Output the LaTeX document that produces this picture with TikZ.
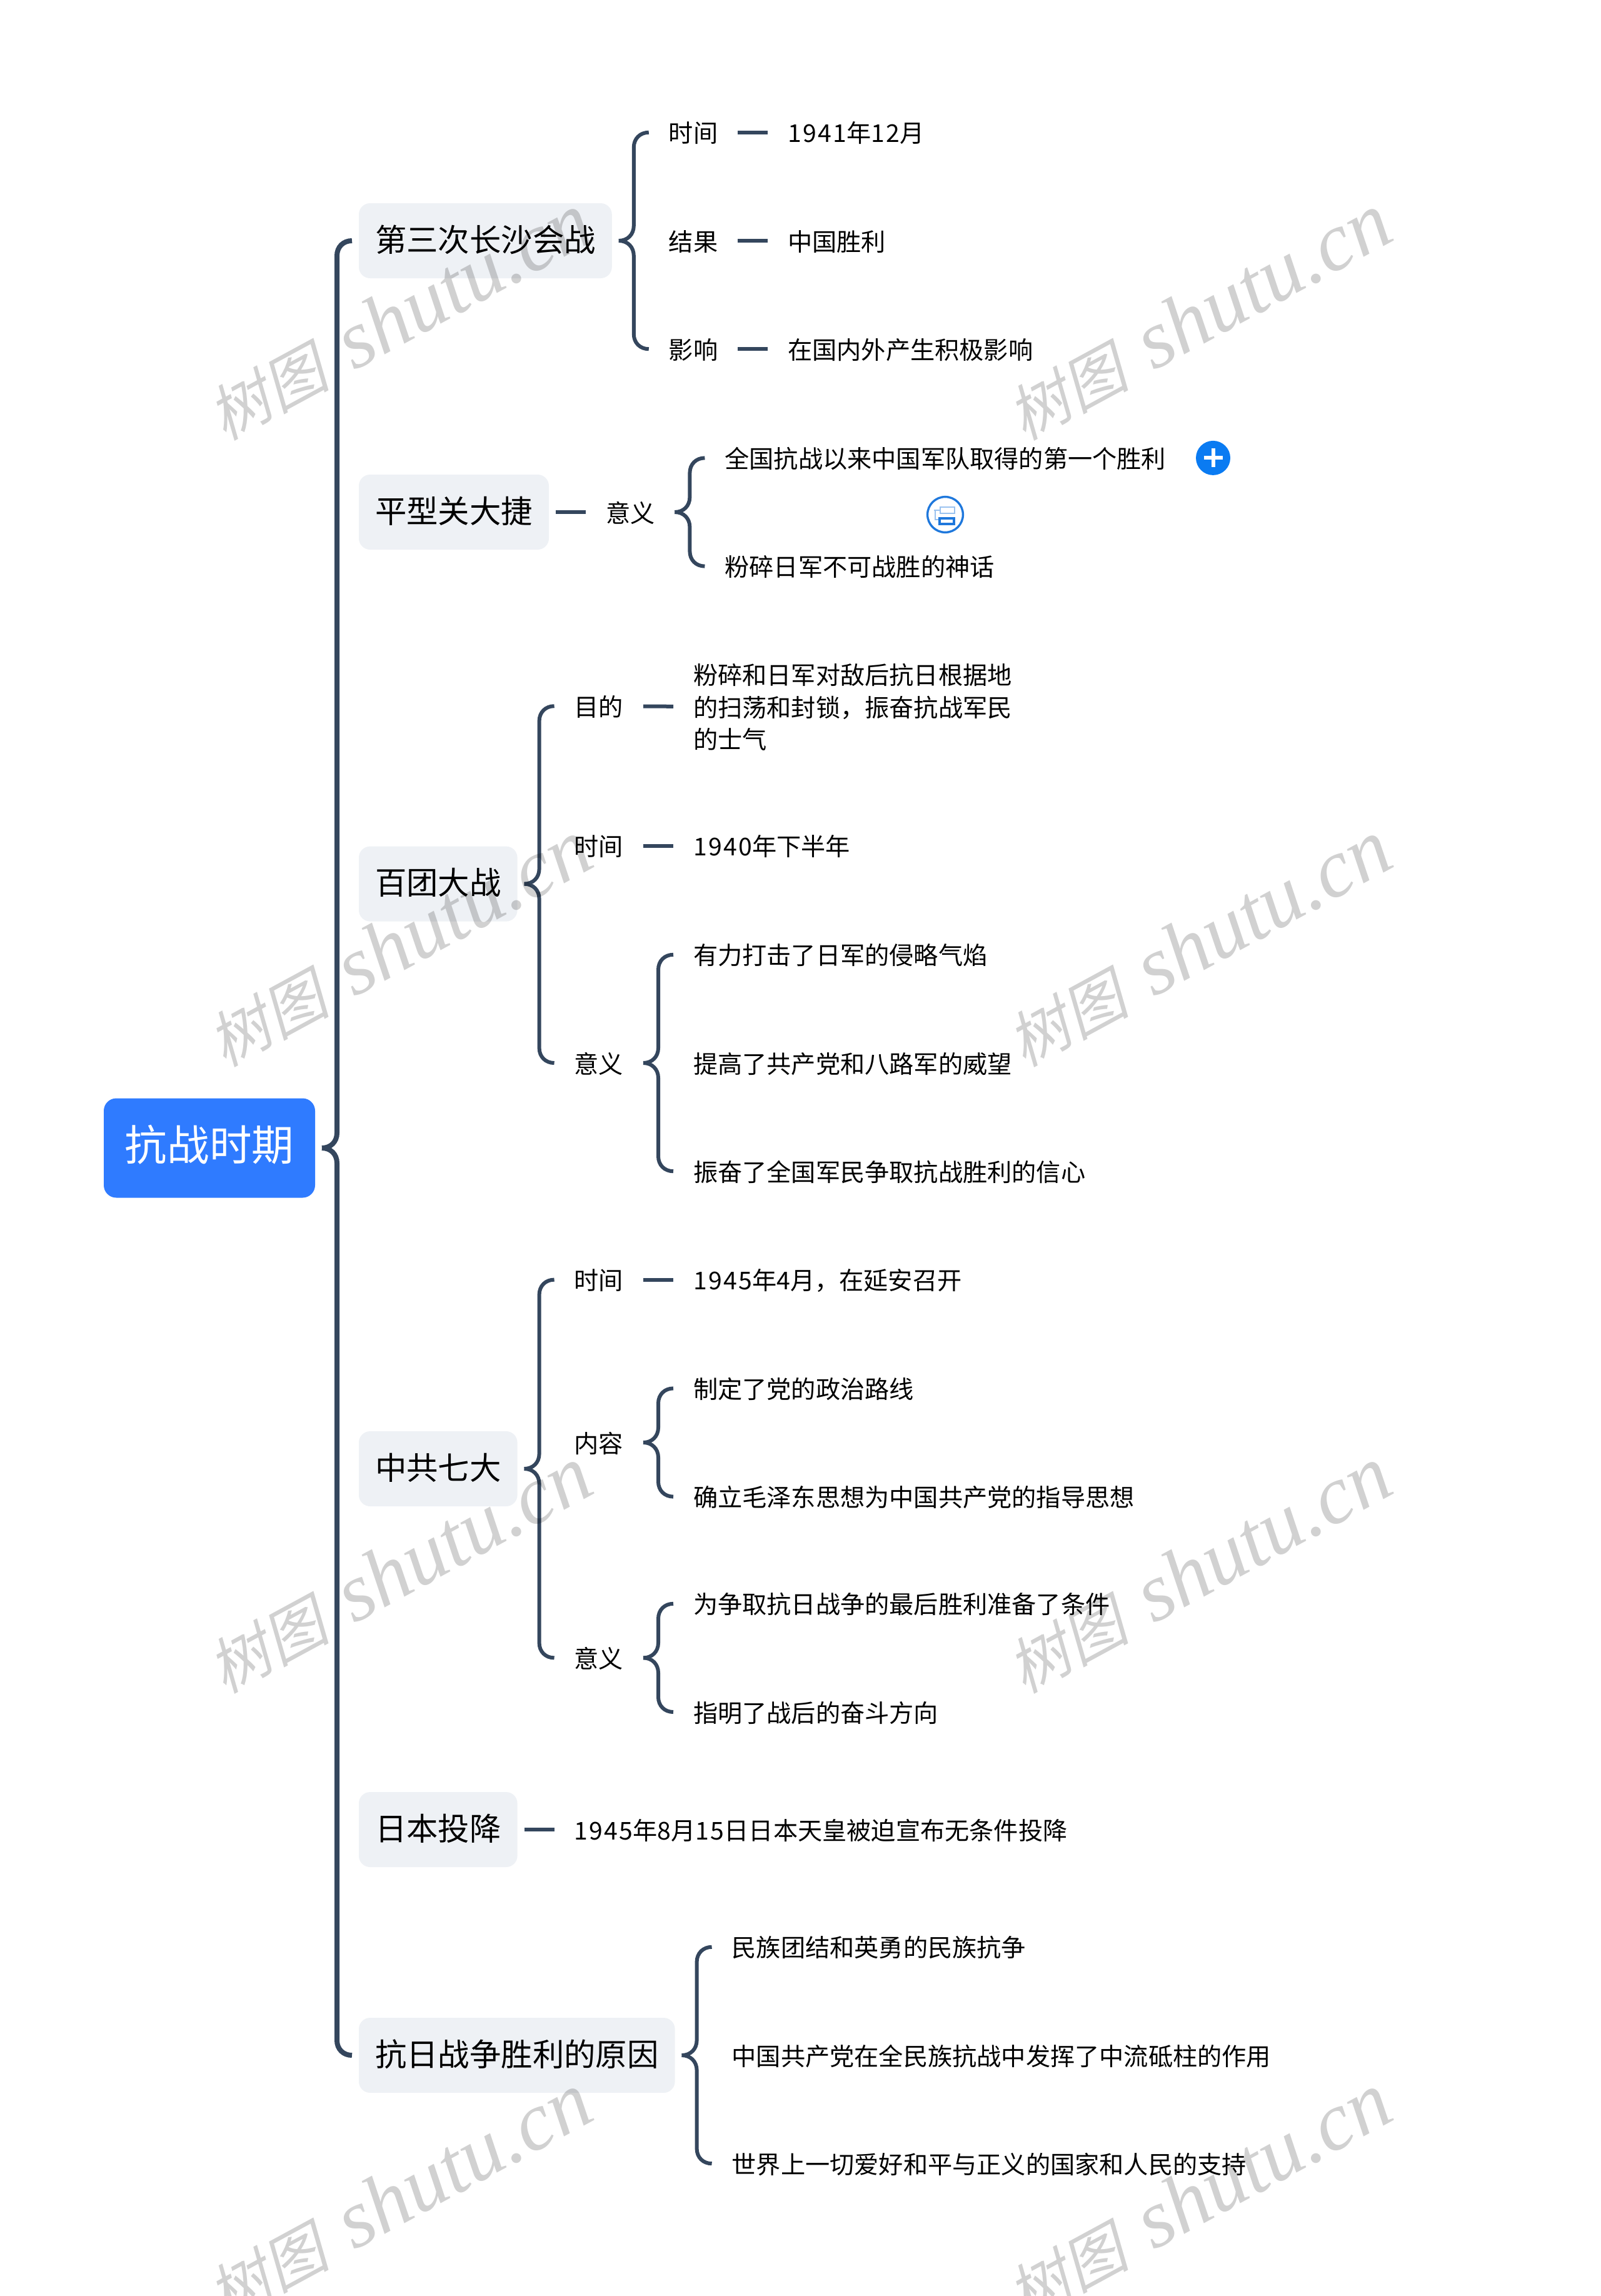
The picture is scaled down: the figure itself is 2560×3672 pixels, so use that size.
\documentclass[tikz,border=0pt]{standalone}
\usepackage{fontspec}
\setmainfont{Noto Sans CJK SC}
\newfontfamily\wmcjk[FakeSlant=0.22]{Noto Sans CJK SC}
\newfontfamily\wmlatin{Liberation Serif}
\usetikzlibrary{positioning,calc}

\definecolor{linecol}{HTML}{34465D}
\definecolor{rootcol}{HTML}{2F7BFF}
\definecolor{boxcol}{HTML}{EEF1F5}
\definecolor{pluscol}{HTML}{0A7BF2}
\definecolor{iconcol}{HTML}{1F78DC}
\newcommand{\dg}[1]{{\addfontfeature{LetterSpace=6}#1}}

\tikzset{
    rootnode/.style={fill=rootcol, text=white, rounded corners=5pt, inner xsep=8.45pt, inner ysep=0pt,
        outer xsep=2.75pt, outer ysep=0pt, minimum height=39.75pt,
        font=\fontsize{16.9}{20}\selectfont, text height=1.04em, text depth=0pt},
    branch/.style={fill=boxcol, rounded corners=4.5pt, inner xsep=6.5pt, inner ysep=0pt,
        outer xsep=2.75pt, outer ysep=0pt, minimum height=30pt,
        font=\fontsize{12.6}{15}\selectfont, text height=.93em, text depth=.07em},
    leaf/.style={inner xsep=5.25pt, inner ysep=0pt, outer xsep=2.75pt, outer ysep=0pt,
        font=\fontsize{9.8}{12.9}\selectfont, text height=.9em, text depth=.1em},
    dash line/.style={line width=1.5pt, draw=linecol},
    bracket/.style={line width=1.5pt, draw=linecol, to path={
        let \p1=(\tikztostart), \p2=(\tikztotarget), \n1={(\y2>\y1)?1:-1} in
        .. controls (\x1+3.5pt,\y1) and (\x1+6pt,\y1+\n1*2.5pt) .. (\x1+6pt,\y1+\n1*6pt)
        -- (\x1+6pt,\y2-\n1*6pt)
        .. controls (\x1+6pt,\y2-\n1*2.5pt) and (\x1+8.5pt,\y2) .. (\x2,\y2)}},
    wmtext/.style={rotate=28.5, text=black, text opacity=.18, inner sep=0pt}
}

\begin{document}
\begin{tikzpicture}[x=.25pt, y=-.25pt, node distance=12pt]
    \useasboundingbox (0,0) rectangle (2560,3672);

    \node[rootnode] (root) at (335,1836) {抗战时期};

    % first level
    \node[branch, right=of root, yshift=362.75pt] (b1) {第三次长沙会战};
    \node[branch, right=of root, yshift=254.25pt] (b2) {平型关大捷};
    \node[branch, right=of root, yshift=105.6pt] (b3) {百团大战};
    \node[branch, right=of root, yshift=-128.25pt] (b4) {中共七大};
    \node[branch, right=of root, yshift=-272.5pt] (b5) {日本投降};
    \node[branch, right=of root, yshift=-362.75pt] (b6) {抗日战争胜利的原因};
    \draw[bracket, line width=2pt] (root.east) to (b1.west);
    \draw[bracket, line width=2pt] (root.east) to (b6.west);

    % 第三次长沙会战
    \node[leaf, right=of b1, yshift=43.3pt] (b1a) {时间};
    \node[leaf, right=of b1] (b1b) {结果};
    \node[leaf, right=of b1, yshift=-43.3pt] (b1c) {影响};
    \node[leaf, right=of b1a] (b1a1) {\dg{1941}年\dg{12}月};
    \node[leaf, right=of b1b] (b1b1) {中国胜利};
    \node[leaf, right=of b1c] (b1c1) {在国内外产生积极影响};
    \draw[bracket] (b1.east) to (b1a.west);
    \draw[bracket] (b1.east) to (b1c.west);
    \draw[dash line] (b1a) -- (b1a1);
    \draw[dash line] (b1b) -- (b1b1);
    \draw[dash line] (b1c) -- (b1c1);

    % 平型关大捷
    \node[leaf, right=of b2] (b2a) {意义};
    \node[leaf, right=of b2a, yshift=21.65pt] (b2a1) {全国抗战以来中国军队取得的第一个胜利};
    \node[leaf, right=of b2a, yshift=-21.65pt] (b2a2) {粉碎日军不可战胜的神话};
    \draw[dash line] (b2) -- (b2a);
    \draw[bracket] (b2a.east) to (b2a1.west);
    \draw[bracket] (b2a.east) to (b2a2.west);
    \node[circle, fill=pluscol, minimum size=13.75pt, inner sep=0pt, right=3.8pt of b2a1] (plus) {};
    \draw[white, line width=1.5pt] ($(plus)+(-15,0)$) -- ($(plus)+(15,0)$);
    \draw[white, line width=1.5pt] ($(plus)+(0,-15)$) -- ($(plus)+(0,15)$);
    \node[circle, draw=iconcol, line width=.85pt, minimum size=14.2pt, inner sep=0pt] (note) at (1512,823) {};
    \draw[iconcol!45, line width=.7pt] ($(note)+(-8,-12)$) rectangle ($(note)+(15,-2)$);
    \draw[iconcol!45, line width=.7pt] ($(note)+(-18,-7)$) -- ($(note)+(-8,-7)$);
    \draw[iconcol!45, line width=.7pt] ($(note)+(-16,-7)$) -- ($(note)+(-16,8)$) -- ($(note)+(-11,8)$);
    \draw[iconcol, line width=.9pt] ($(note)+(-9,6)$) rectangle ($(note)+(14,15)$);

    % 百团大战
    \node[leaf, right=of b3, yshift=71.1pt] (b3a) {目的};
    \node[leaf, right=of b3, yshift=15.25pt] (b3b) {时间};
    \node[leaf, right=of b3, yshift=-71.6pt] (b3c) {意义};
    \node[leaf, right=of b3a, align=left, text height=, text depth=, yshift=-.5pt] (b3a1)
        {粉碎和日军对敌后抗日根据地\\的扫荡和封锁，振奋抗战军民\\的士气};
    \node[leaf, right=of b3b] (b3b1) {\dg{1940}年下半年};
    \node[leaf, right=of b3c, yshift=43.3pt] (b3c1) {有力打击了日军的侵略气焰};
    \node[leaf, right=of b3c] (b3c2) {提高了共产党和八路军的威望};
    \node[leaf, right=of b3c, yshift=-43.3pt] (b3c3) {振奋了全国军民争取抗战胜利的信心};
    \draw[bracket] (b3.east) to (b3a.west);
    \draw[bracket] (b3.east) to (b3c.west);
    \draw[dash line] (b3a) -- (b3a1);
    \draw[dash line] (b3b) -- (b3b1);
    \draw[bracket] (b3c.east) to (b3c1.west);
    \draw[bracket] (b3c.east) to (b3c3.west);

    % 中共七大
    \node[leaf, right=of b4, yshift=75.6pt] (b4a) {时间};
    \node[leaf, right=of b4, yshift=10.5pt] (b4b) {内容};
    \node[leaf, right=of b4, yshift=-75.6pt] (b4c) {意义};
    \node[leaf, right=of b4a] (b4a1) {\dg{1945}年\dg{4}月，在延安召开};
    \node[leaf, right=of b4b, yshift=21.65pt] (b4b1) {制定了党的政治路线};
    \node[leaf, right=of b4b, yshift=-21.65pt] (b4b2) {确立毛泽东思想为中国共产党的指导思想};
    \node[leaf, right=of b4c, yshift=21.65pt] (b4c1) {为争取抗日战争的最后胜利准备了条件};
    \node[leaf, right=of b4c, yshift=-21.65pt] (b4c2) {指明了战后的奋斗方向};
    \draw[bracket] (b4.east) to (b4a.west);
    \draw[bracket] (b4.east) to (b4c.west);
    \draw[dash line] (b4a) -- (b4a1);
    \draw[bracket] (b4b.east) to (b4b1.west);
    \draw[bracket] (b4b.east) to (b4b2.west);
    \draw[bracket] (b4c.east) to (b4c1.west);
    \draw[bracket] (b4c.east) to (b4c2.west);

    % 日本投降
    \node[leaf, right=of b5] (b5a) {\dg{1945}年\dg{8}月\dg{15}日日本天皇被迫宣布无条件投降};
    \draw[dash line] (b5) -- (b5a);

    % 抗日战争胜利的原因
    \node[leaf, right=of b6, yshift=43.3pt] (b6a) {民族团结和英勇的民族抗争};
    \node[leaf, right=of b6] (b6b) {中国共产党在全民族抗战中发挥了中流砥柱的作用};
    \node[leaf, right=of b6, yshift=-43.3pt] (b6c) {世界上一切爱好和平与正义的国家和人民的支持};
    \draw[bracket] (b6.east) to (b6a.west);
    \draw[bracket] (b6.east) to (b6c.west);

    % watermark
    \foreach \wx in {638,1917}
        \foreach \wy in {507,1509,2511,3513}
            \node[wmtext] (wm\wx\wy) at (\wx,\wy)
                {\fontsize{24.3}{24}\selectfont\wmcjk 树图\hspace{.42em}\fontsize{33}{33}\selectfont\wmlatin\itshape shutu.cn};
\end{tikzpicture}
\end{document}
